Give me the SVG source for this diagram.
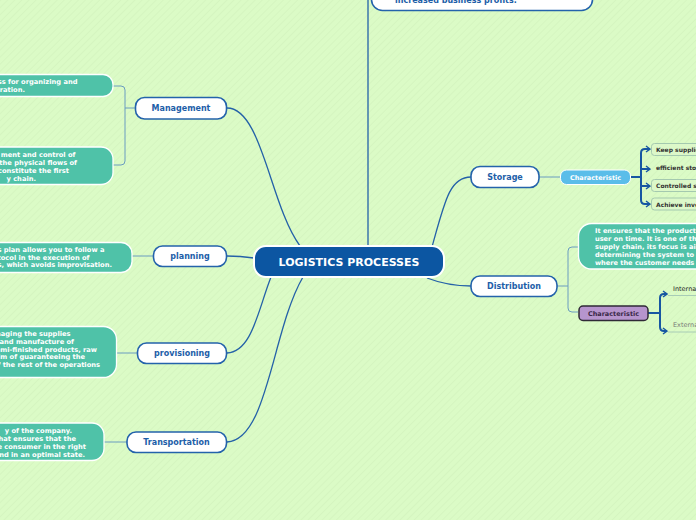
<svg xmlns="http://www.w3.org/2000/svg" width="696" height="520" viewBox="0 0 696 520">
<defs>
<pattern id="bg" width="5" height="5" patternUnits="userSpaceOnUse" patternTransform="rotate(45)">
<rect width="5" height="5" fill="#dbfbc6"/>
<line x1="0" y1="0" x2="0" y2="5" stroke="#d1f2bd" stroke-width="1.2"/>
</pattern>
<marker id="arr" markerWidth="6" markerHeight="8" refX="5" refY="4" orient="auto" markerUnits="userSpaceOnUse">
<path d="M1,1 L5,4 L1,7" fill="none" stroke="#1757a2" stroke-width="1.4"/>
</marker>
</defs>
<style>
text{font-family:"DejaVu Sans","Verdana",sans-serif;font-weight:bold}
.lbl{font-size:8px;fill:#1d5ea8;text-anchor:middle}
.node{fill:#fff;stroke:#2463ab;stroke-width:1.6}
.note{fill:#4fc2a8;stroke:#fff;stroke-width:1.3}
.nt{font-size:6.6px;fill:#fff}
.ntr{font-size:6.7px;fill:#fff;text-anchor:end}
.main{fill:none;stroke:#2461a8;stroke-width:1.3}
.sub{fill:none;stroke:#6a9cc0;stroke-width:1}
.thick{fill:none;stroke:#1757a2;stroke-width:2}
.item{fill:#dcf8c9;stroke:#a4c9af;stroke-width:1}
.it{font-size:6px;fill:#333}
</style>
<rect width="696" height="520" fill="url(#bg)"/>
<g id="connectors">
<path class="main" d="M227,108 C262,108 270,205 300,246"/>
<path class="main" d="M227,256 Q240,256 254,258"/>
<path class="main" d="M227,353 C252,352 258,310 271,277"/>
<path class="main" d="M227,442 C268,440 272,330 303,277"/>
<path class="main" d="M368,246 V0" stroke="#4d82b5" stroke-width="1.5"/>
<path class="main" d="M432,247 C445,200 450,177 471,177"/>
<path class="main" d="M427,278 C440,283 455,286 471,286"/>
<path class="sub" d="M136,108 H125"/>
<path class="sub" d="M113,86 H121 Q125,86 125,90 V161 Q125,165 121,165 H113"/>
<path class="sub" d="M132,256 H153"/>
<path class="sub" d="M116,353 H137"/>
<path class="sub" d="M104,442 H127"/>
<path class="sub" d="M539,177 H560"/>
<path class="sub" d="M557,286 H568"/>
<path class="sub" d="M578,247 H572 Q568,247 568,251 V308 Q568,312 572,312 H578"/>
<path class="thick" d="M631,177 H641"/>
<path class="thick" d="M650,149 H645 Q641,149 641,153 V200 Q641,204 645,204 H650" marker-end="url(#arr)"/>
<path class="thick" d="M645,149 H650" marker-end="url(#arr)"/>
<path class="thick" d="M641,169 H650" marker-end="url(#arr)"/>
<path class="thick" d="M641,186 H650" marker-end="url(#arr)"/>
<path class="thick" d="M648,313 H660"/>
<path class="thick" d="M667,294 H664 Q660,294 660,298 V327 Q660,331 664,331 H667" marker-end="url(#arr)"/>
<path class="thick" d="M664,294 H667" marker-end="url(#arr)"/>
</g>
<g id="top">
<rect class="node" x="371.5" y="-20" width="221" height="30.5" rx="11"/>
<text x="395" y="2.5" style="font-size:8px;fill:#1d5ea8">increased business profits.</text>
</g>
<g id="center">
<rect x="254" y="246" width="190" height="31" rx="12" fill="#0c56a2" stroke="#fff" stroke-width="2"/>
<text x="349" y="266" style="font-size:11px;fill:#fff;text-anchor:middle">LOGISTICS PROCESSES</text>
</g>
<g id="management">
<rect class="node" x="135.5" y="97.5" width="91" height="21.5" rx="9"/>
<text class="lbl" x="181" y="111">Management</text>
</g>
<g id="management-note1">
<rect class="note" x="-20" y="74.5" width="133" height="22" rx="10"/>
<text class="ntr" x="77.5" y="83.5">ss for organizing and</text>
<text class="ntr" x="25" y="91.5">eration.</text>
</g>
<g id="management-note2">
<rect class="note" x="-20" y="147" width="133" height="37.5" rx="12"/>
<text class="ntr" x="75.5" y="157">ment and control of</text>
<text class="ntr" x="77" y="165">the physical flows of</text>
<text class="ntr" x="69" y="173">constitute the first</text>
<text class="ntr" x="36" y="181">y chain.</text>
</g>
<g id="planning">
<rect class="node" x="153.5" y="246" width="73" height="20.5" rx="9"/>
<text class="lbl" x="190" y="259">planning</text>
</g>
<g id="planning-note">
<rect class="note" x="-20" y="242.5" width="152" height="30" rx="11"/>
<text class="ntr" x="104.5" y="251.5">s plan allows you to follow a</text>
<text class="ntr" x="89.5" y="259.5">atocol in the execution of</text>
<text class="ntr" x="112" y="267">s, which avoids improvisation.</text>
</g>
<g id="provisioning">
<rect class="node" x="137.5" y="343" width="89" height="20.5" rx="9"/>
<text class="lbl" x="182" y="356">provisioning</text>
</g>
<g id="provisioning-note">
<rect class="note" x="-20" y="326.5" width="136.5" height="51" rx="13"/>
<text class="ntr" x="70.5" y="336">naging the supplies</text>
<text class="ntr" x="74" y="343.8">and manufacture of</text>
<text class="ntr" x="97" y="351.6">emi-finished products, raw</text>
<text class="ntr" x="85" y="359.4">im of guaranteeing the</text>
<text class="ntr" x="100" y="367.2">of the rest of the operations</text>
</g>
<g id="transportation">
<rect class="node" x="127" y="432" width="99.5" height="20.5" rx="9"/>
<text class="lbl" x="176.5" y="445">Transportation</text>
</g>
<g id="transportation-note">
<rect class="note" x="-20" y="423" width="124" height="37.5" rx="12"/>
<text class="ntr" x="72" y="432.8">y of the company.</text>
<text class="ntr" x="76" y="440.8">what ensures that the</text>
<text class="ntr" x="86" y="449">e consumer in the right</text>
<text class="ntr" x="85" y="457">and in an optimal state.</text>
</g>
<g id="storage">
<rect class="node" x="471" y="166.5" width="68" height="21" rx="9"/>
<text class="lbl" x="505" y="180">Storage</text>
</g>
<g id="storage-characteristic">
<rect x="560.5" y="170" width="70" height="14.5" rx="6" fill="#5abde9" stroke="#fff" stroke-width="1"/>
<text x="595.5" y="179.8" style="font-size:6.5px;fill:#fff;text-anchor:middle">Characteristic</text>
</g>
<g id="item-keep">
<rect class="item" x="651.5" y="143.5" width="60" height="12" rx="3"/>
<text class="it" x="656" y="151.8">Keep supplie</text>
</g>
<g id="item-efficient">
<text class="it" x="656" y="170">efficient sto</text>
</g>
<g id="item-controlled">
<rect class="item" x="651.5" y="179.5" width="60" height="12" rx="3"/>
<text class="it" x="656" y="188">Controlled s</text>
</g>
<g id="item-achieve">
<rect class="item" x="651.5" y="198" width="60" height="12" rx="3"/>
<text class="it" x="656" y="206.5">Achieve inve</text>
</g>
<g id="distribution">
<rect class="node" x="471" y="276" width="86" height="20.5" rx="9"/>
<text class="lbl" x="514" y="289">Distribution</text>
</g>
<g id="distribution-note">
<rect class="note" x="578.5" y="223.5" width="140" height="45.5" rx="13"/>
<text class="nt" x="595" y="233">It ensures that the product</text>
<text class="nt" x="595" y="241">user on time. It is one of the</text>
<text class="nt" x="595" y="249">supply chain, its focus is aim</text>
<text class="nt" x="595" y="257">determining the system to p</text>
<text class="nt" x="595" y="265">where the customer needs i</text>
</g>
<g id="distribution-characteristic">
<rect x="579" y="306" width="69" height="14.5" rx="4" fill="#b695cd" stroke="#2f2a36" stroke-width="1.5"/>
<text x="613.5" y="315.8" style="font-size:6.5px;fill:#3a2848;text-anchor:middle">Characteristic</text>
</g>
<g id="item-internal">
<line x1="668" y1="295.5" x2="696" y2="295.5" stroke="#a8ccb6" stroke-width="1"/>
<text x="673" y="290.5" style="font-size:6.5px;fill:#222;font-weight:normal">Interna</text>
</g>
<g id="item-external">
<line x1="668" y1="332" x2="696" y2="332" stroke="#a8ccb6" stroke-width="1"/>
<text x="673" y="327" style="font-size:6.5px;fill:#777;font-weight:normal">Externa</text>
</g>
</svg>
